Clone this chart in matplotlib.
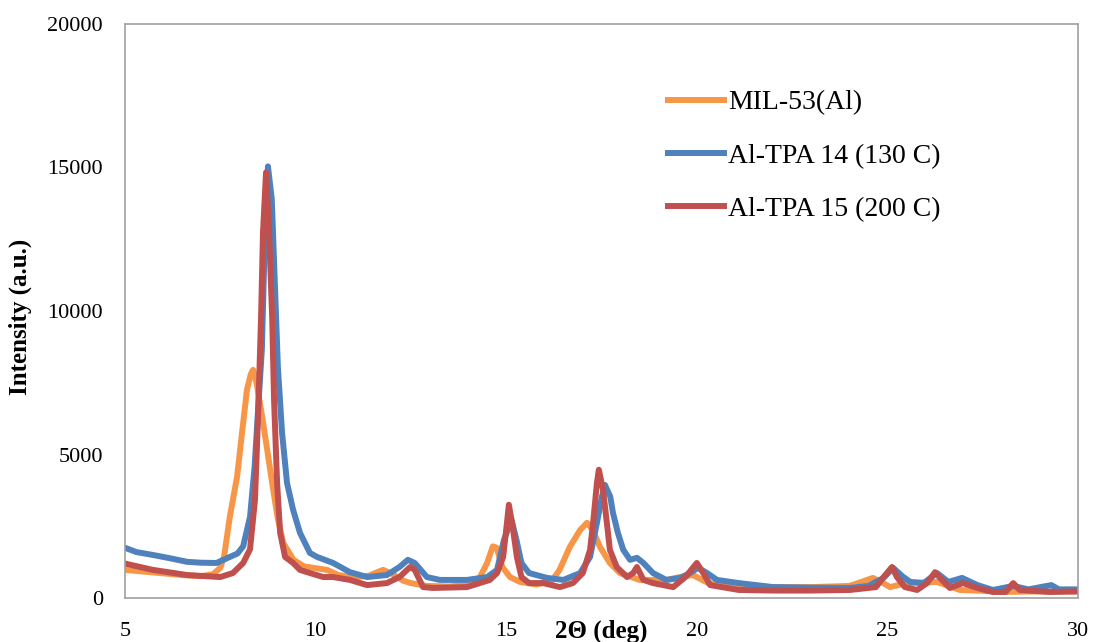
import matplotlib
matplotlib.use('Agg')
import matplotlib.pyplot as plt

# XRD patterns
mil53_x = [5.0, 5.5, 6.0, 6.5, 7.0, 7.31, 7.5, 7.6, 7.75, 7.94, 8.07, 8.2, 8.3, 8.36,
           8.45, 8.6, 8.73, 8.86, 9.0, 9.15, 9.42, 9.7, 10.3, 10.6, 11.0, 11.4, 11.77,
           12.0, 12.3, 12.5, 12.9, 13.5, 14.0, 14.3, 14.5, 14.65, 14.75, 14.9, 15.1,
           15.36, 15.8, 16.2, 16.4, 16.67, 16.94, 17.12, 17.27, 17.46, 17.72, 17.98,
           18.5, 19.2, 19.56, 19.9, 20.3, 21.0, 22.0, 23.0, 24.0, 24.3, 24.62, 24.85,
           25.07, 25.5, 26.0, 26.3, 26.9, 27.5, 28.0, 28.5, 29.0, 30.0]
mil53_y = [980, 920, 860, 800, 760, 830, 1050, 1450, 2830, 4220, 5760, 7260, 7800, 7950,
           7500, 6300, 5170, 4010, 2830, 1920, 1330, 1100, 980, 800, 720, 780, 980,
           850, 600, 520, 420, 400, 450, 700, 1220, 1800, 1750, 1080, 730,
           560, 470, 600, 980, 1780, 2370, 2620, 2370, 1780, 1220, 870,
           630, 630, 730, 800, 520, 420, 380, 380, 420, 550, 700, 550,
           380, 520, 540, 560, 280, 250, 210, 220, 230, 230]

tpa14_x = [5.0, 5.3, 5.73, 6.2, 6.63, 7.0, 7.4, 7.75, 7.95, 8.1, 8.28, 8.4, 8.48, 8.59,
           8.66, 8.75, 8.85, 8.93, 9.01, 9.12, 9.25, 9.41, 9.59, 9.85, 10.04, 10.46,
           10.9, 11.35, 11.87, 12.2, 12.42, 12.6, 12.92, 13.26, 13.97, 14.5, 14.76,
           14.94, 15.14, 15.27, 15.4, 15.6, 16.07, 16.5, 16.94, 17.2, 17.38, 17.51,
           17.59, 17.73, 17.8, 17.93, 18.07, 18.25, 18.43, 18.6, 18.85, 19.2, 19.56,
           19.8, 20.03, 20.27, 20.53, 21.1, 22.0, 23.0, 24.02, 24.5, 24.9, 25.15, 25.4,
           25.6, 25.95, 26.3, 26.6, 26.96, 27.36, 27.77, 28.3, 28.7, 29.3, 29.5, 30.0]
tpa14_y = [1750, 1600, 1500, 1380, 1260, 1230, 1220, 1430, 1550, 1800, 2830, 4570, 6320, 8660,
           12150, 15040, 13900, 11000, 8060, 5760, 4010, 3070, 2270, 1570, 1430, 1220,
           900, 730, 800, 1080, 1330, 1220, 730, 630, 630, 730, 980,
           2020, 2720, 2020, 1220, 870, 700, 630, 870, 1430, 2620, 3530,
           3940, 3530, 2970, 2270, 1680, 1330, 1400, 1220, 870, 630, 700,
           850, 1050, 870, 630, 520, 380, 360, 350, 420, 700, 1050, 750,
           560, 520, 870, 560, 700, 450, 280, 420, 300, 450, 300, 300]

tpa15_x = [5.0, 5.73, 6.63, 7.5, 7.83, 8.1, 8.28, 8.41, 8.49, 8.57, 8.62, 8.7, 8.78,
           8.86, 8.91, 8.99, 9.07, 9.2, 9.41, 9.59, 9.85, 10.2, 10.46, 10.9, 11.35,
           11.87, 12.2, 12.48, 12.6, 12.82, 13.08, 13.97, 14.57, 14.76, 14.92, 15.02,
           15.07, 15.17, 15.28, 15.4, 15.6, 15.97, 16.41, 16.75, 17.01, 17.2, 17.28,
           17.38, 17.43, 17.54, 17.64, 17.72, 17.9, 18.17, 18.33, 18.43, 18.6, 18.85,
           19.38, 19.7, 20.0, 20.17, 20.35, 21.1, 22.0, 23.0, 24.02, 24.7, 24.9, 25.12,
           25.25, 25.46, 25.78, 26.04, 26.25, 26.43, 26.64, 26.98, 27.36, 27.77, 28.1,
           28.3, 28.47, 29.26, 30.0]
tpa15_y = [1200, 980, 800, 730, 870, 1220, 1700, 3420, 6320, 9810, 12740, 14830, 12740,
           9810, 6910, 4010, 2270, 1430, 1220, 980, 870, 730, 730, 630, 450,
           520, 730, 1080, 980, 380, 350, 380, 630, 870, 1430, 2620,
           3250, 2480, 1430, 730, 520, 520, 380, 520, 870, 1680, 2620,
           4010, 4470, 3770, 2620, 1680, 1080, 730, 870, 1080, 630, 520,
           380, 730, 1220, 870, 450, 280, 260, 260, 280, 380, 730, 1080,
           730, 380, 280, 520, 900, 630, 350, 520, 350, 210, 210,
           520, 280, 210, 230]

plt.rcParams['font.family'] = ['Liberation Serif', 'DejaVu Serif']

fig = plt.figure(figsize=(10.95, 6.42), dpi=100)
ax = fig.add_axes([125/1095, 44/642, 953/1095, 574/642])

ax.plot(mil53_x, mil53_y, color='#F79646', lw=4.3, label='MIL-53(Al)')
ax.plot(tpa14_x, tpa14_y, color='#4F81BD', lw=4.3, label='Al-TPA 14 (130 C)')
ax.plot(tpa15_x, tpa15_y, color='#C0504D', lw=4.3, label='Al-TPA 15 (200 C)')

ax.set_xlim(5, 30)
ax.set_ylim(0, 20000)
ax.set_xticks([5, 10, 15, 20, 25, 30])
ax.set_yticks([0, 5000, 10000, 15000, 20000])
ax.tick_params(length=0, labelsize=16)
ax.tick_params(axis='y', pad=16)
ax.tick_params(axis='x', pad=17.5)
for s in ax.spines.values():
    s.set_color('#a0a0a0')
    s.set_linewidth(1.2)

ax.set_xlabel('2Θ (deg)', fontsize=18, fontweight='bold', va='center')
ax.xaxis.set_label_coords(0.5, -0.058)
ax.set_ylabel('Intensity (a.u.)', fontsize=18, fontweight='bold', va='center')
ax.yaxis.set_label_coords(-0.11, 0.49)

ax.legend(loc='upper left', bbox_to_anchor=(668/1095, 1 - 90/642),
          bbox_transform=fig.transFigure, frameon=False, fontsize=20,
          handlelength=2.0, handletextpad=0.15, labelspacing=1.0, borderpad=0,
          borderaxespad=0)

fig.savefig('out.png', dpi=100)
